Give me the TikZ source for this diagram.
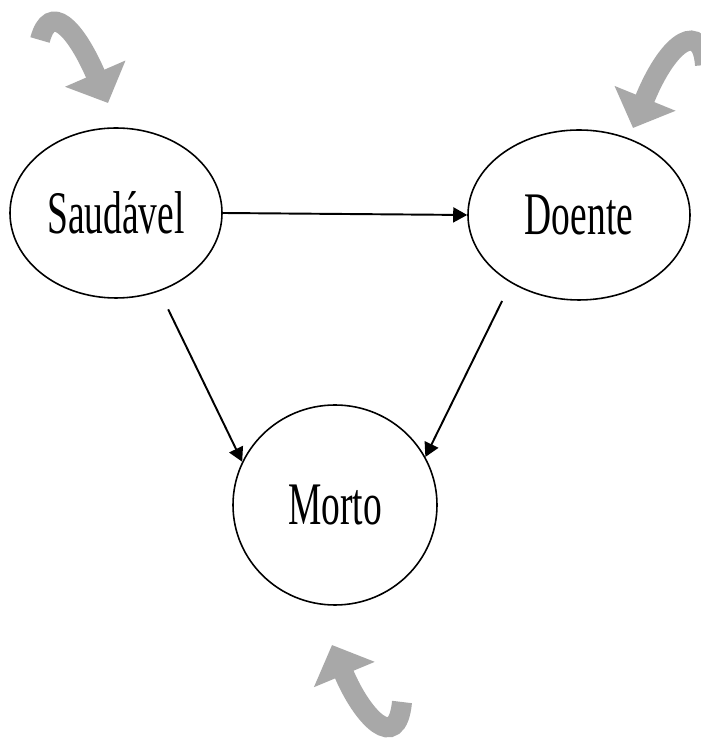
\documentclass[tikz,border=0pt]{standalone}
\usepackage{fontspec}
\newfontfamily\condserif[FakeStretch=0.62]{Liberation Serif}
\usepackage{tikz}
\usetikzlibrary{shapes.geometric, arrows.meta, positioning, calc}

\begin{document}
\begin{tikzpicture}[
  state/.style={ellipse, draw, line width=0.45pt, inner sep=0pt, font=\condserif\fontsize{17.2}{20}\selectfont},
  arrow/.style={-{Triangle[length=0.14cm, width=0.15cm]}, line width=0.55pt},
  loop/.style={-{Triangle[length=0.32cm, width=0.64cm]}, line width=0.2cm, draw=gray!68!white, color=gray!68!white}
]

\path[use as bounding box, fill=white] (0,0) rectangle (7,7.42);

\node (saud) [state, minimum width=2.12cm, minimum height=1.70cm] at (1.16,5.29) {Saudável};
\node (doente) [state, minimum width=2.22cm, minimum height=1.70cm] at (5.79,5.27) {Doente};
\node (morto) [state, minimum width=2.04cm, minimum height=2.00cm] at (3.35,2.37) {Morto};

\draw [arrow] (saud.east) -- (doente.west);
\draw [arrow, shorten <=0.2cm] (saud.-61) -- (morto.155);
\draw [arrow, shorten <=0.2cm] (doente.225) -- (morto.28);

% self loops
\coordinate (saudtail) at (0.40,7.02);
\coordinate (saudtip) at (1.08,6.39);
\coordinate (doentetail) at (7.05,6.77);
\coordinate (doentetip) at (6.33,6.14);
\coordinate (mortotail) at (4.02,0.40);
\coordinate (mortotip) at (3.32,0.97);

\draw [loop] (saudtail) .. controls +(0.10,0.38) and (0.75,7.15) .. (saudtip);
\draw [loop] (doentetail) .. controls +(-0.03,0.43) and (6.70,7.05) .. (doentetip);
\draw [loop] (mortotail) .. controls +(-0.05,-0.52) and (3.62,0.25) .. (mortotip);

\end{tikzpicture}
\end{document}
